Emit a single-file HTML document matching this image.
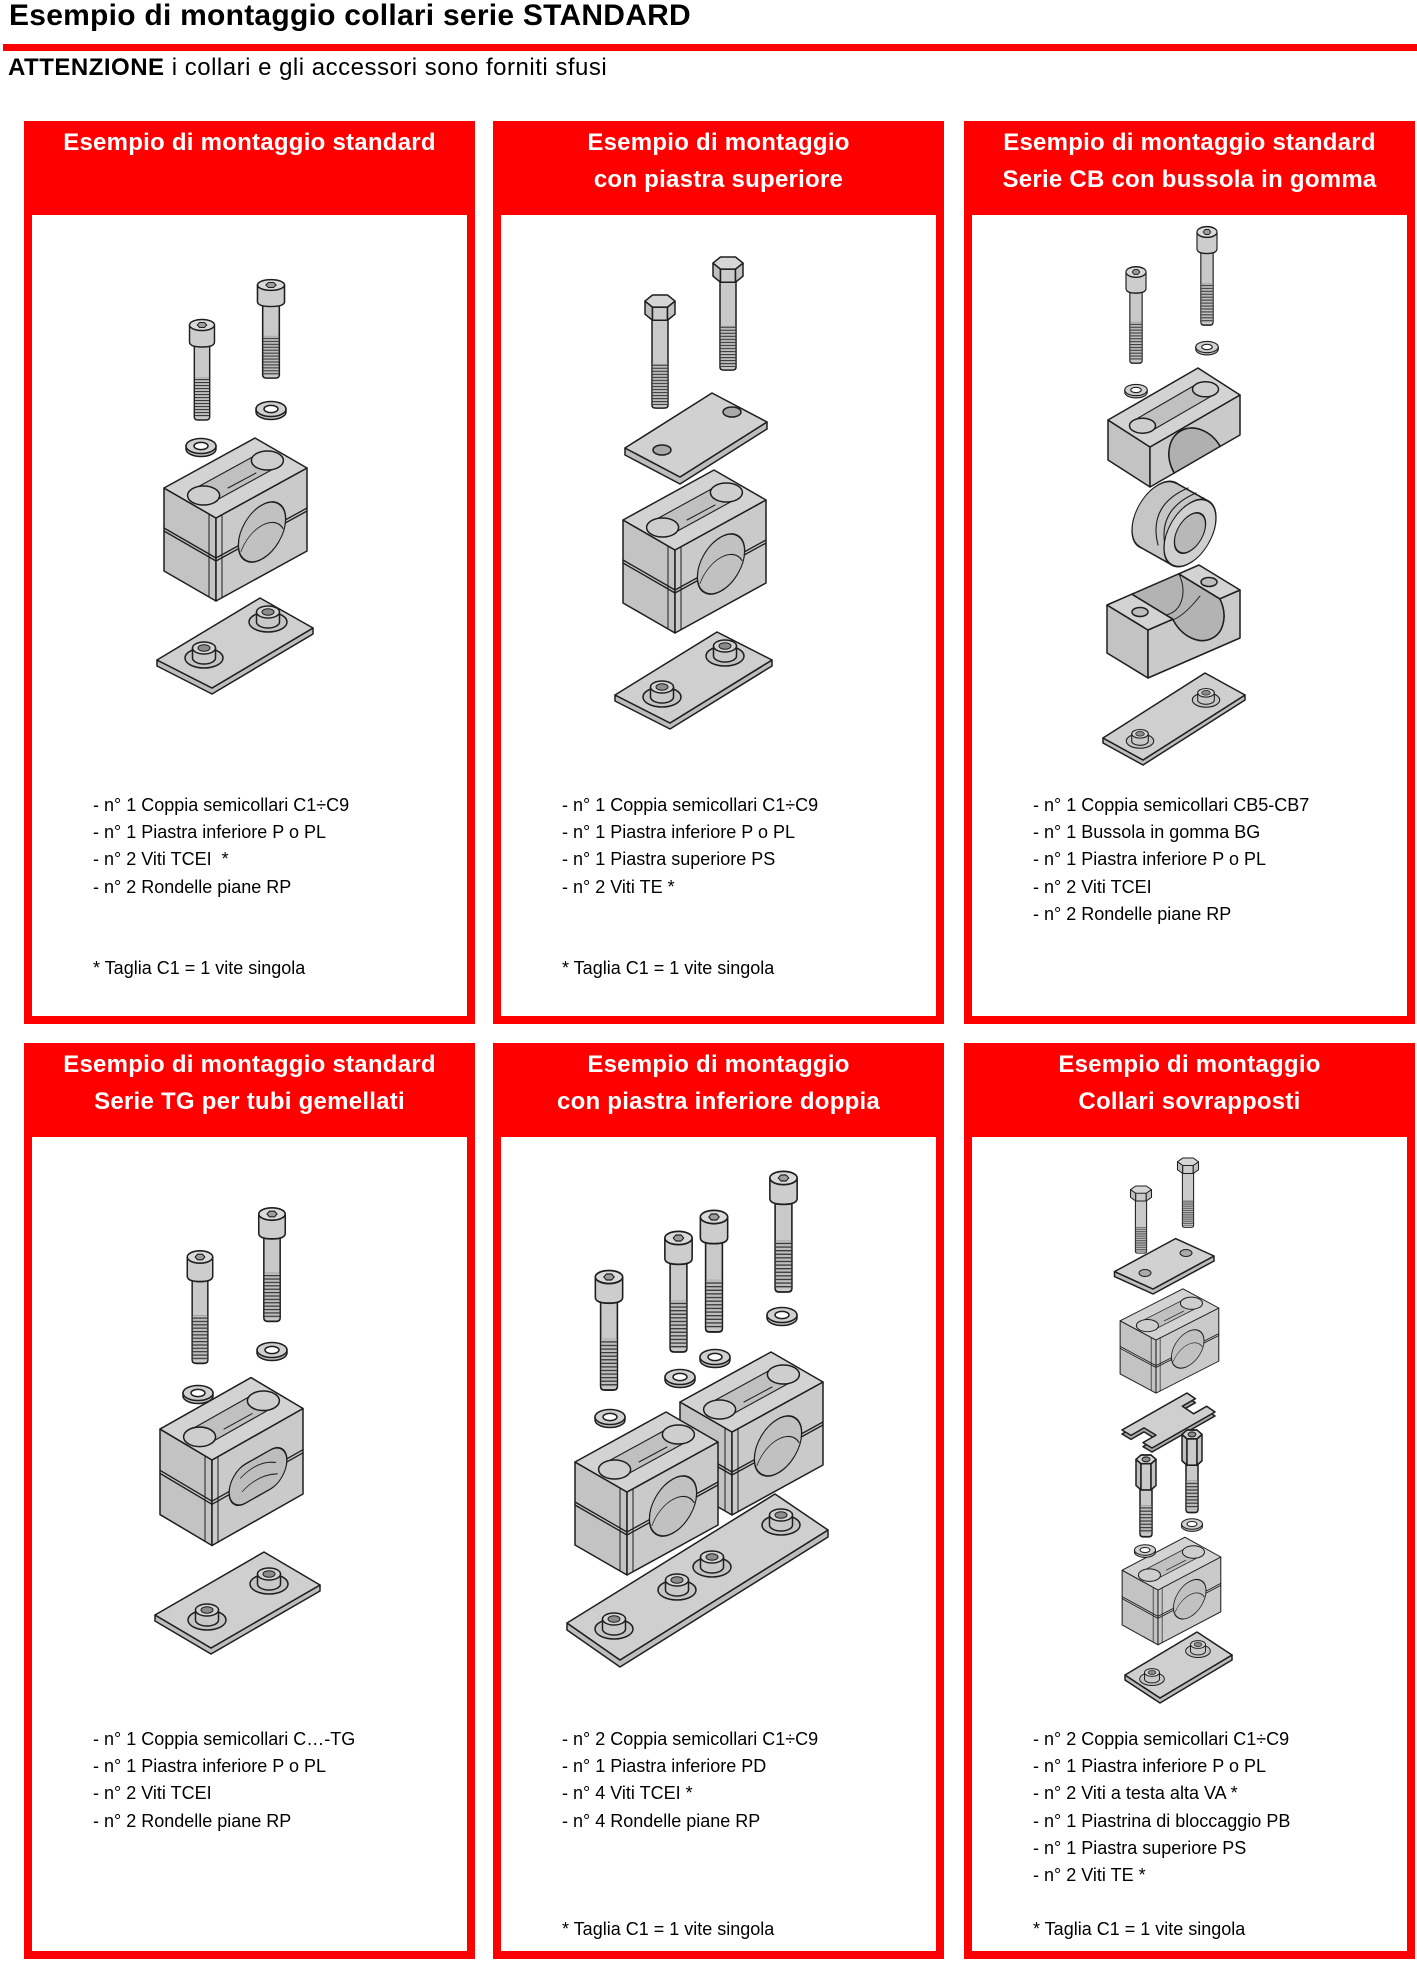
<!DOCTYPE html>
<html><head><meta charset="utf-8">
<style>
html,body{margin:0;padding:0;background:#fff;}
body{width:1417px;height:1963px;position:relative;overflow:hidden;font-family:"Liberation Sans",Arial,sans-serif;color:#000;}
.t{position:absolute;white-space:nowrap;}
.panel{position:absolute;background:#ff0000;}
.panel .in{position:absolute;left:8px;right:8px;top:94px;bottom:8px;background:#fff;}
.hd{position:absolute;left:0;right:0;top:3px;text-align:center;color:#fff;font-weight:bold;font-size:24px;line-height:37px;letter-spacing:0.25px;white-space:nowrap;}
.ls{position:absolute;left:69px;font-size:18px;line-height:27.2px;white-space:nowrap;}
.r1 .ls{top:671px;} .r1 .fn{top:834px;}
.r2 .ls{top:683px;} .r2 .fn{top:873px;}
svg{position:absolute;left:0;top:0;}
</style></head>
<body>
<div class="t" style="left:9px;top:1px;font-size:30px;line-height:30px;font-weight:bold;letter-spacing:0.25px;">Esempio di montaggio collari serie STANDARD</div>
<div style="position:absolute;left:3px;right:0;top:44px;height:7px;background:#ff0000;"></div>
<div class="t" style="left:8px;top:56px;font-size:24px;line-height:24px;letter-spacing:0.5px;"><b>ATTENZIONE</b> i collari e gli accessori sono forniti sfusi</div>

<div class="panel r1" style="left:24px;top:121px;width:451px;height:903px;"><div class="in"></div>
<div class="hd">Esempio di montaggio standard</div>
<div class="ls">- n° 1 Coppia semicollari C1÷C9<br>- n° 1 Piastra inferiore P o PL<br>- n° 2 Viti TCEI &nbsp;*<br>- n° 2 Rondelle piane RP</div>
<div class="ls fn">* Taglia C1 = 1 vite singola</div>
</div>

<div class="panel r1" style="left:493px;top:121px;width:451px;height:903px;"><div class="in"></div>
<div class="hd">Esempio di montaggio<br>con piastra superiore</div>
<div class="ls">- n° 1 Coppia semicollari C1÷C9<br>- n° 1 Piastra inferiore P o PL<br>- n° 1 Piastra superiore PS<br>- n° 2 Viti TE *</div>
<div class="ls fn">* Taglia C1 = 1 vite singola</div>
</div>

<div class="panel r1" style="left:964px;top:121px;width:451px;height:903px;"><div class="in"></div>
<div class="hd">Esempio di montaggio standard<br>Serie CB con bussola in gomma</div>
<div class="ls">- n° 1 Coppia semicollari CB5-CB7<br>- n° 1 Bussola in gomma BG<br>- n° 1 Piastra inferiore P o PL<br>- n° 2 Viti TCEI<br>- n° 2 Rondelle piane RP</div>
</div>

<div class="panel r2" style="left:24px;top:1043px;width:451px;height:916px;"><div class="in"></div>
<div class="hd">Esempio di montaggio standard<br>Serie TG per tubi gemellati</div>
<div class="ls">- n° 1 Coppia semicollari C…-TG<br>- n° 1 Piastra inferiore P o PL<br>- n° 2 Viti TCEI<br>- n° 2 Rondelle piane RP</div>
</div>

<div class="panel r2" style="left:493px;top:1043px;width:451px;height:916px;"><div class="in"></div>
<div class="hd">Esempio di montaggio<br>con piastra inferiore doppia</div>
<div class="ls">- n° 2 Coppia semicollari C1÷C9<br>- n° 1 Piastra inferiore PD<br>- n° 4 Viti TCEI *<br>- n° 4 Rondelle piane RP</div>
<div class="ls fn">* Taglia C1 = 1 vite singola</div>
</div>

<div class="panel r2" style="left:964px;top:1043px;width:451px;height:916px;"><div class="in"></div>
<div class="hd">Esempio di montaggio<br>Collari sovrapposti</div>
<div class="ls">- n° 2 Coppia semicollari C1÷C9<br>- n° 1 Piastra inferiore P o PL<br>- n° 2 Viti a testa alta VA *<br>- n° 1 Piastrina di bloccaggio PB<br>- n° 1 Piastra superiore PS<br>- n° 2 Viti TE *</div>
<div class="ls fn">* Taglia C1 = 1 vite singola</div>
</div>

<svg width="1417" height="1963" viewBox="0 0 1417 1963" xmlns="http://www.w3.org/2000/svg">
<defs>
<pattern id="thr" patternUnits="userSpaceOnUse" width="20" height="3">
<rect width="20" height="3" fill="#bdbdbd"/><rect width="20" height="1.1" fill="#3a3a3a"/>
</pattern>
<g id="tc">
<path d="M-8,18 V92 Q-8,95 -4,95 H4 Q8,95 8,92 V18 Z" fill="#c9c9c9"/>
<rect x="-7.3" y="52" width="14.6" height="40" fill="url(#thr)" stroke="none"/>
<path d="M-13,0 V17 Q-13,22 0,22 Q13,22 13,17 V0 Z" fill="#cdcdcd"/>
<ellipse cx="0" cy="0" rx="13" ry="5.5" fill="#dadada"/>
<path d="M-5,0 L-2.5,-2.5 H2.5 L5,0 L2.5,2.5 H-2.5 Z" fill="#9c9c9c" stroke-width="1"/>
</g>
<g id="te">
<path d="M-8,22 V109 Q-8,112 -4,112 H4 Q8,112 8,109 V22 Z" fill="#c9c9c9"/>
<rect x="-7.3" y="68" width="14.6" height="41" fill="url(#thr)" stroke="none"/>
<polygon points="-15,6 -7.5,12 -7.5,25 -15,19" fill="#bfbfbf"/>
<polygon points="-7.5,12 7.5,12 7.5,25 -7.5,25" fill="#cbcbcb"/>
<polygon points="7.5,12 15,6 15,19 7.5,25" fill="#c2c2c2"/>
<polygon points="-15,6 -7.5,0 7.5,0 15,6 7.5,12 -7.5,12" fill="#d6d6d6"/>
</g>
<g id="va">
<path d="M-6,30 V72 Q-6,75 -3,75 H3 Q6,75 6,72 V30 Z" fill="#c9c9c9"/>
<rect x="-5.4" y="46" width="10.8" height="26" fill="url(#thr)" stroke="none"/>
<polygon points="-10,4 -5,8 -5,32 -10,28" fill="#bfbfbf"/>
<polygon points="-5,8 5,8 5,32 -5,32" fill="#cbcbcb"/>
<polygon points="5,8 10,4 10,28 5,32" fill="#c2c2c2"/>
<polygon points="-10,4 -5,0 5,0 10,4 5,8 -5,8" fill="#d6d6d6"/>
<ellipse cx="0" cy="4" rx="4" ry="2.2" fill="#8f8f8f" stroke-width="1"/>
</g>
<g id="ws">
<path d="M-15,0 V3 A15,7.5 0 0 0 15,3 V0 Z" fill="#bdbdbd"/>
<ellipse rx="15" ry="7.5" fill="#d0d0d0"/>
<ellipse rx="7" ry="3.6" fill="#ffffff"/>
</g>
<g id="bs">
<ellipse rx="19" ry="10" fill="#c4c4c4"/>
<path d="M-11.5,-10 V0 A11.5,6 0 0 0 11.5,0 V-10 Z" fill="#c9c9c9"/>
<ellipse cy="-10" rx="11.5" ry="6" fill="#d3d3d3"/>
<ellipse cy="-10" rx="6" ry="3.2" fill="#8c8c8c" stroke-width="1"/>
</g>
<g id="bb">
<polygon points="-52,-30 0,0 0,83 -52,53" fill="#c3c3c3"/>
<polygon points="0,0 91,-50 91,33 0,83" fill="#cacaca"/>
<polygon points="-52,-30 39,-80 91,-50 0,0" fill="#d3d3d3"/>
<polygon points="-2,-16.5 61.8,-51.5 41,-63.5 -22.8,-28.5" fill="#c0c0c0" stroke-width="1.1"/>
<line x1="12" y1="-30" x2="40" y2="-45" stroke-width="1"/>
<ellipse cx="-12.4" cy="-22.5" rx="16" ry="9.5" fill="#cecece"/>
<ellipse cx="51.4" cy="-57.5" rx="16" ry="9.5" fill="#cecece"/>
<polyline points="-52,10 0,40 91,-10" fill="none" stroke-width="1.3"/>
<polyline points="-52,13 0,43 91,-7" fill="none" stroke-width="1.3"/>
<line x1="-7" y1="-4" x2="-7" y2="79" stroke-width="1"/>
<line x1="6" y1="-3" x2="6" y2="80" stroke-width="1"/>
</g>
<g id="blk">
<use href="#bb"/>
<circle r="27" transform="matrix(0.875,-0.48,0,1,46,14)" fill="#c1c1c1"/>
<path d="M-24,8 A27,27 0 0 1 24,8" transform="matrix(0.875,-0.48,0,1,46,14)" fill="none" stroke-width="1"/>
</g>
<g id="blks">
<use href="#bb"/>
<rect x="-33" y="-19" width="66" height="38" rx="19" ry="19" transform="matrix(0.875,-0.48,0,1,46,16)" fill="#bdbdbd"/>
<path d="M-20,-8 Q0,-16 20,-4 M-18,6 Q0,-2 22,8" transform="matrix(0.875,-0.48,0,1,46,16)" fill="none" stroke-width="1"/>
</g>
</defs>

<g stroke="#1e1e1e" stroke-width="1.5" stroke-linejoin="round" stroke-linecap="round">

<!-- PANEL 1 -->
<polygon points="157,660 212,688 313,628 313,634 212,694 157,666" fill="#bdbdbd"/>
<polygon points="157,660 260,598 313,628 212,688" fill="#cfcfcf"/>
<use href="#bs" transform="translate(204,658)"/>
<use href="#bs" transform="translate(268,622)"/>
<use href="#blk" transform="translate(216,518)"/>
<use href="#ws" transform="translate(271,409)"/>
<use href="#ws" transform="translate(201,446)"/>
<use href="#tc" transform="translate(271,285) scale(1.04,0.98)"/>
<use href="#tc" transform="translate(202,325) scale(0.96,1.0)"/>

<!-- PANEL 2 -->
<polygon points="615,695 670,723 772,660 772,666 670,729 615,701" fill="#bdbdbd"/>
<polygon points="615,695 717,632 772,660 670,723" fill="#cfcfcf"/>
<use href="#bs" transform="translate(662,697)"/>
<use href="#bs" transform="translate(725,656)"/>
<use href="#blk" transform="translate(675,550)"/>
<polygon points="625,448 680,477 767,422 767,429 680,484 625,455" fill="#bdbdbd"/>
<polygon points="625,448 712,393 767,422 680,477" fill="#d1d1d1"/>
<ellipse cx="662" cy="450" rx="9" ry="5" fill="#a9a9a9"/>
<ellipse cx="732" cy="412" rx="9" ry="5" fill="#a9a9a9"/>
<use href="#te" transform="translate(660,295) scale(1,1.01)"/>
<use href="#te" transform="translate(728,257) scale(1,1.01)"/>

<!-- PANEL 3 -->
<polygon points="1103,738 1143,760 1245,695 1245,700 1143,765 1103,743" fill="#bdbdbd"/>
<polygon points="1103,738 1205,673 1245,695 1143,760" fill="#cfcfcf"/>
<use href="#bs" transform="translate(1140,741) scale(0.72)"/>
<use href="#bs" transform="translate(1206,700) scale(0.72)"/>
<!-- lower CB half -->
<polygon points="1107,605 1148,630 1148,678 1107,653" fill="#c3c3c3"/>
<path d="M1148,630 L1172.8,619.2 A23,30 -30 0 0 1219.8,598.8 L1240,590 L1240,638 L1148,678 Z" fill="#cacaca"/>
<path d="M1172.8,619.2 A23,30 -30 0 0 1219.8,598.8 L1178.8,573.8 L1131.8,594.2 Z" fill="#b3b3b3"/>
<path d="M1131.8,594.2 A23,30 -30 0 0 1178.8,573.8" fill="none" stroke-width="1"/>
<path d="M1150,607 Q1165,640 1200,596" fill="none" stroke-width="1"/>
<polygon points="1107,605 1131.8,594.2 1172.8,619.2 1148,630" fill="#d3d3d3"/>
<polygon points="1219.8,598.8 1178.8,573.8 1199,565 1240,590" fill="#d3d3d3"/>
<ellipse cx="1140" cy="612" rx="8" ry="4.5" fill="#bdbdbd"/>
<ellipse cx="1209" cy="582" rx="8" ry="4.5" fill="#bdbdbd"/>
<!-- bushing -->
<circle r="30" transform="matrix(0.866,-0.5,0,1,1158,515)" fill="#c6c6c6"/>
<polygon points="1176.4,483.2 1208.4,501.2 1171.6,564.8 1139.6,546.8" fill="#c6c6c6" stroke="none"/>
<line x1="1176.4" y1="483.2" x2="1208.4" y2="501.2"/>
<line x1="1139.6" y1="546.8" x2="1171.6" y2="564.8"/>
<path d="M1158,545 Q1148,505 1188,488" fill="none" stroke-width="1.1"/>
<path d="M1166,550 Q1156,510 1196,493" fill="none" stroke-width="1.1"/>
<path d="M1178,556 Q1168,516 1204,498" fill="none" stroke-width="1.1"/>
<circle r="30" transform="matrix(0.866,-0.5,0,1,1190,533)" fill="#d0d0d0"/>
<circle r="18" transform="matrix(0.866,-0.5,0,1,1190,533)" fill="#b8b8b8"/>
<!-- upper CB half -->
<polygon points="1108,420 1150,447 1150,487 1108,460" fill="#c3c3c3"/>
<path d="M1150,447 L1240,395 L1240,435 L1220.2,446.4 A24,30 -30 0 0 1174.3,473 L1150,487 Z" fill="#cacaca"/>
<path d="M1220.2,446.4 A24,30 -30 0 0 1174.3,473 Z" fill="#b0b0b0"/>
<polygon points="1108,420 1198,368 1240,395 1150,447" fill="#d3d3d3"/>
<polygon points="1150.9,431.1 1213.9,394.7 1197.1,383.9 1134.1,420.3" fill="#c0c0c0" stroke-width="1.1"/>
<ellipse cx="1142.5" cy="425.7" rx="13" ry="7.5" fill="#cecece"/>
<ellipse cx="1205.5" cy="389.3" rx="13" ry="7.5" fill="#cecece"/>
<use href="#ws" transform="translate(1207,347) scale(0.75)"/>
<use href="#ws" transform="translate(1136,390) scale(0.75)"/>
<use href="#tc" transform="translate(1207,232) scale(0.77,0.98)"/>
<use href="#tc" transform="translate(1136,272) scale(0.77,0.96)"/>

<!-- PANEL 4 -->
<polygon points="155,1615 211,1648 320,1585 320,1591 211,1654 155,1621" fill="#bdbdbd"/>
<polygon points="155,1615 264,1552 320,1585 211,1648" fill="#cfcfcf"/>
<use href="#bs" transform="translate(207,1620)"/>
<use href="#bs" transform="translate(269,1584)"/>
<use href="#blks" transform="translate(212,1460) scale(1,1.03)"/>
<use href="#ws" transform="translate(272,1350)"/>
<use href="#ws" transform="translate(198,1393)"/>
<use href="#tc" transform="translate(272,1214) scale(1.02,1.13)"/>
<use href="#tc" transform="translate(200,1257) scale(0.98,1.12)"/>

<!-- PANEL 5 -->
<polygon points="567,1623 620,1660 828,1530 828,1537 620,1667 567,1630" fill="#bdbdbd"/>
<polygon points="567,1623 775,1494 828,1530 620,1660" fill="#cfcfcf"/>
<use href="#bs" transform="translate(614,1629)"/>
<use href="#bs" transform="translate(677,1590)"/>
<use href="#bs" transform="translate(712,1567)"/>
<use href="#bs" transform="translate(781,1525)"/>
<use href="#blk" transform="translate(732,1432)"/>
<use href="#blk" transform="translate(627,1492)"/>
<use href="#ws" transform="translate(782,1315)"/>
<use href="#ws" transform="translate(715,1357)"/>
<use href="#ws" transform="translate(680,1377)"/>
<use href="#ws" transform="translate(610,1417)"/>
<use href="#tc" transform="translate(783.5,1178) scale(1.05,1.2)"/>
<use href="#tc" transform="translate(714,1217) scale(1.05,1.21)"/>
<use href="#tc" transform="translate(678.5,1238) scale(1.05,1.2)"/>
<use href="#tc" transform="translate(609,1277) scale(1.05,1.19)"/>

<!-- PANEL 6 -->
<polygon points="1114.5,1271.6 1153,1289 1214,1256 1214,1261 1153,1294 1114.5,1276.6" fill="#bdbdbd"/>
<polygon points="1114.5,1271.6 1175.5,1238.6 1214,1256 1153,1289" fill="#d1d1d1"/>
<ellipse cx="1145" cy="1273" rx="6" ry="3.5" fill="#a9a9a9" stroke-width="1"/>
<ellipse cx="1186" cy="1253" rx="6" ry="3.5" fill="#a9a9a9" stroke-width="1"/>
<use href="#te" transform="translate(1141,1186) scale(0.7,0.6)"/>
<use href="#te" transform="translate(1188,1158) scale(0.7,0.62)"/>
<use href="#blk" transform="translate(1156,1340) scale(0.69,0.64)"/>
<path d="M1122,1434 L1187,1397 L1195.4,1402.7 L1182.4,1410.2 L1193.6,1417.8 L1206.6,1410.3 L1215,1416 L1152,1452 L1143,1446.6 L1156,1439.1 L1144,1431.9 L1131,1439.4 Z" fill="#a9a9a9"/>
<path d="M1122,1430 L1187,1393 L1195.4,1398.7 L1182.4,1406.2 L1193.6,1413.8 L1206.6,1406.3 L1215,1412 L1152,1448 L1143,1442.6 L1156,1435.1 L1144,1427.9 L1131,1435.4 Z" fill="#cfcfcf"/>
<use href="#blk" transform="translate(1158,1590) scale(0.69,0.66)"/>
<polygon points="1125,1675 1160,1698 1232,1655 1232,1660 1160,1703 1125,1680" fill="#bdbdbd"/>
<polygon points="1125,1675 1197,1632 1232,1655 1160,1698" fill="#cfcfcf"/>
<use href="#bs" transform="translate(1152,1679) scale(0.65)"/>
<use href="#bs" transform="translate(1198,1651) scale(0.65)"/>
<use href="#ws" transform="translate(1192,1524) scale(0.7)"/>
<use href="#ws" transform="translate(1145,1550) scale(0.7)"/>
<use href="#va" transform="translate(1192,1430) scale(1,1.1)"/>
<use href="#va" transform="translate(1146,1455) scale(1,1.09)"/>
</g>
</svg>
</body></html>
